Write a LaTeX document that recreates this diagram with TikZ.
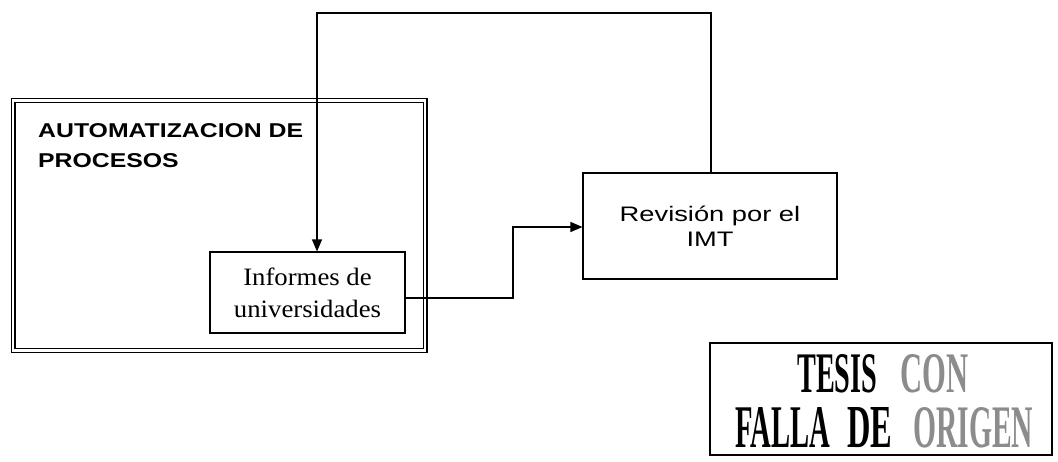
\documentclass[tikz,border=0pt]{standalone}
\usepackage{fontspec}
\usepackage{graphicx}
\setmainfont{Liberation Serif}
\newfontfamily\arialf{Liberation Sans}
\newfontfamily\timesf{Liberation Serif}
\usetikzlibrary{arrows.meta}
\begin{document}
\begin{tikzpicture}[x=1pt,y=-1pt,
  boxline/.style={draw, line width=1.1pt, inner sep=0pt},
  conn/.style={line width=1.2pt},
  tip/.style={-{Triangle[length=12pt,width=10pt]}},
  stampword/.style={anchor=south west, inner sep=0pt}]
\useasboundingbox (0,0) rectangle (1058,461);

% outer double frame
\node (proc) [draw, double, double distance=2.6pt, line width=1.2pt,
  minimum width=412pt, minimum height=250pt, inner sep=0pt] at (219,225.5) {};
\node (title1) [anchor=base west, inner sep=0pt] at (38,137)
  {\scalebox{1.24}[1]{\arialf\bfseries\fontsize{20}{24}\selectfont AUTOMATIZACION DE}};
\node (title2) [anchor=base west, inner sep=0pt] at (38,167)
  {\scalebox{1.24}[1]{\arialf\bfseries\fontsize{20}{24}\selectfont PROCESOS}};

% Informes box
\node (inf) [boxline, minimum width=195pt, minimum height=81pt, align=center,
  font=\timesf\fontsize{25}{32}\selectfont] at (307.5,292.5)
  {\scalebox{1.07}[1]{Informes de}\\\scalebox{1.07}[1]{universidades}};

% Revision box
\node (rev) [boxline, minimum width=254pt, minimum height=106pt, align=center,
  font=\arialf\fontsize{21}{25}\selectfont] at (710,226)
  {\scalebox{1.3}[1]{Revisión por el}\\\scalebox{1.3}[1]{IMT}};

% connectors
\coordinate (a1) at (513,298);
\coordinate (a2) at (513,227);
\draw[conn,tip] (inf.east |- a1) -- (a1) -- (a2) -- (rev.west |- a2);
\coordinate (f1) at (711,13);
\coordinate (f2) at (317,13);
\draw[conn,tip] (rev.north -| f1) -- (f1) -- (f2) -- (inf.north -| f2);

% stamp
\node (stamp) [draw, line width=1.6pt, minimum width=342pt, minimum height=112pt,
  inner sep=0pt] at (881,399) {};
\node (w1) [stampword] at (797,393) {\resizebox{80pt}{38pt}{\timesf\bfseries TESIS}};
\node (w2) [stampword, text=black!45] at (900,393) {\resizebox{68pt}{38pt}{\timesf\bfseries CON}};
\node (w3) [stampword] at (735,448) {\resizebox{95pt}{40pt}{\timesf\bfseries FALLA}};
\node (w4) [stampword] at (847,448) {\resizebox{45pt}{40pt}{\timesf\bfseries DE}};
\node (w5) [stampword, text=black!45] at (913,448) {\resizebox{120pt}{40pt}{\timesf\bfseries ORIGEN}};
\end{tikzpicture}
\end{document}
